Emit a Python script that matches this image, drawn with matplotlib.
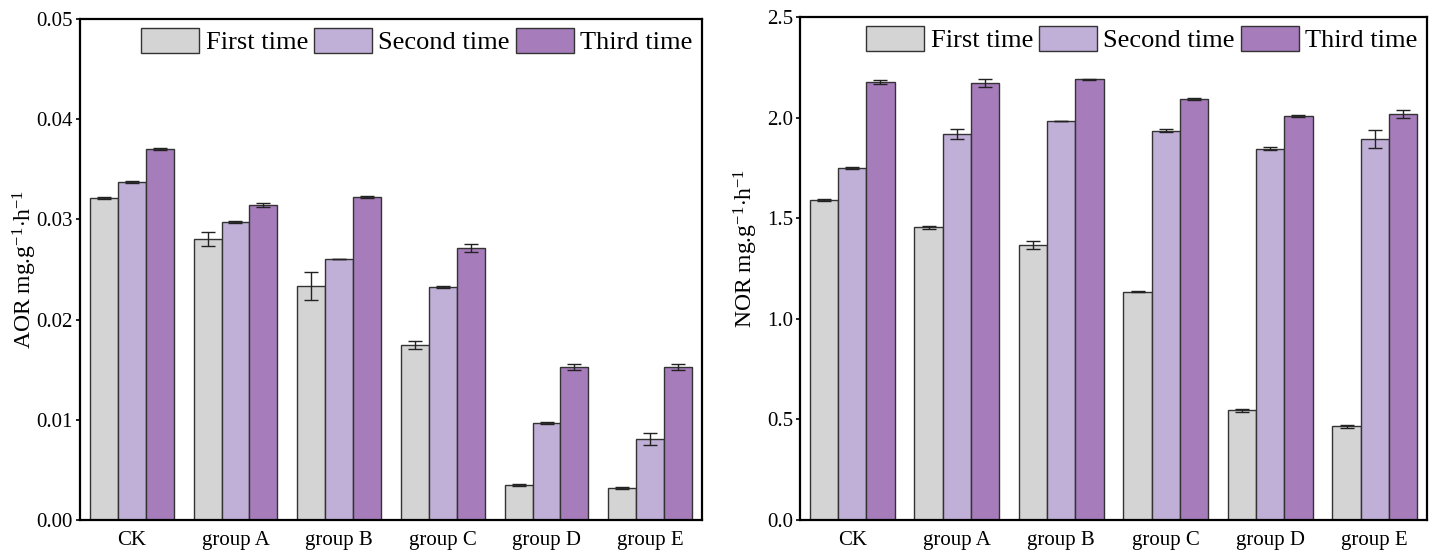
#!/usr/bin/env python3
import numpy as np
import matplotlib.pyplot as plt

plt.rcParams['font.family'] = ['Liberation Serif', 'DejaVu Serif']
plt.rcParams['mathtext.fontset'] = 'custom'
plt.rcParams['mathtext.rm'] = 'Liberation Serif'
plt.rcParams['mathtext.it'] = 'Liberation Serif:italic'

groups = ["CK", "group A", "group B", "group C", "group D", "group E"]
series = ["First time", "Second time", "Third time"]
colors = ["#d4d4d4", "#c0afd7", "#a77cbb"]

aor_first = [0.0321, 0.0280, 0.0234, 0.0175, 0.0035, 0.0032]
aor_second = [0.0337, 0.0297, 0.0260, 0.0233, 0.0097, 0.0081]
aor_third = [0.0370, 0.0314, 0.0322, 0.0271, 0.0153, 0.0153]
aor_first_err = [0.0001, 0.0007, 0.0014, 0.0004, 0.0001, 0.0001]
aor_second_err = [0.0001, 0.0001, 0.0, 0.0001, 0.0001, 0.0006]
aor_third_err = [0.0001, 0.0002, 0.0001, 0.0004, 0.0003, 0.0003]

nor_first = [1.59, 1.455, 1.365, 1.135, 0.545, 0.465]
nor_second = [1.75, 1.92, 1.985, 1.935, 1.845, 1.895]
nor_third = [2.175, 2.17, 2.19, 2.09, 2.01, 2.02]
nor_first_err = [0.005, 0.008, 0.02, 0.004, 0.006, 0.008]
nor_second_err = [0.003, 0.025, 0.0, 0.008, 0.008, 0.045]
nor_third_err = [0.01, 0.02, 0.003, 0.005, 0.005, 0.02]

aor_ticks = [0, 0.01, 0.02, 0.03, 0.04, 0.05]
aor_ticklabels = ["0.00", "0.01", "0.02", "0.03", "0.04", "0.05"]
nor_ticks = [0, 0.5, 1.0, 1.5, 2.0, 2.5]
nor_ticklabels = ["0.0", "0.5", "1.0", "1.5", "2.0", "2.5"]


def draw_panel(ax, vals, errs, ylim, yticks, yticklabels, ylabel, label_xy):
	x = np.arange(len(groups))
	w = 0.27
	for i in range(3):
		ax.bar(x + (i - 1) * w, vals[i], w, color=colors[i], edgecolor="#333333",
			   linewidth=1.0, label=series[i],
			   yerr=errs[i], capsize=5, error_kw=dict(ecolor="#222222", elinewidth=1.0, capthick=1.0))
	ax.set_xlim(-0.5, len(groups) - 0.5)
	ax.set_ylim(*ylim)
	ax.set_yticks(yticks)
	ax.set_yticklabels(yticklabels, fontsize=15)
	ax.set_xticks(x)
	ax.set_xticklabels(groups, fontsize=15)
	ax.tick_params(axis="x", length=0, pad=8)
	ax.tick_params(axis="y", direction="out", length=3, width=1.2, pad=2)
	ax.set_ylabel(ylabel, fontsize=17)
	ax.yaxis.set_label_coords(*label_xy)
	for s in ax.spines.values():
		s.set_linewidth(1.6)
	ax.legend(loc="upper right", ncol=3, frameon=False, fontsize=19,
			  handlelength=2.2, handleheight=1.05, handletextpad=0.25,
			  columnspacing=0.22, borderaxespad=0.1, borderpad=0.25)


fig = plt.figure(figsize=(14.34, 5.57), dpi=100)
ax1 = fig.add_axes([80 / 1434, 37 / 557, 622 / 1434, 501 / 557])
ax2 = fig.add_axes([800 / 1434, 37 / 557, 627 / 1434, 503 / 557])

draw_panel(ax1, [aor_first, aor_second, aor_third],
		   [aor_first_err, aor_second_err, aor_third_err],
		   (0, 0.05), aor_ticks, aor_ticklabels,
		   r"AOR mg.g$^{-1}$$\cdot$h$^{-1}$", (-0.066, 0.5))

draw_panel(ax2, [nor_first, nor_second, nor_third],
		   [nor_first_err, nor_second_err, nor_third_err],
		   (0, 2.5), nor_ticks, nor_ticklabels,
		   r"NOR mg.g$^{-1}$$\cdot$h$^{-1}$", (-0.064, 0.54))

fig.savefig("out.png", dpi=100)
plt.close()
